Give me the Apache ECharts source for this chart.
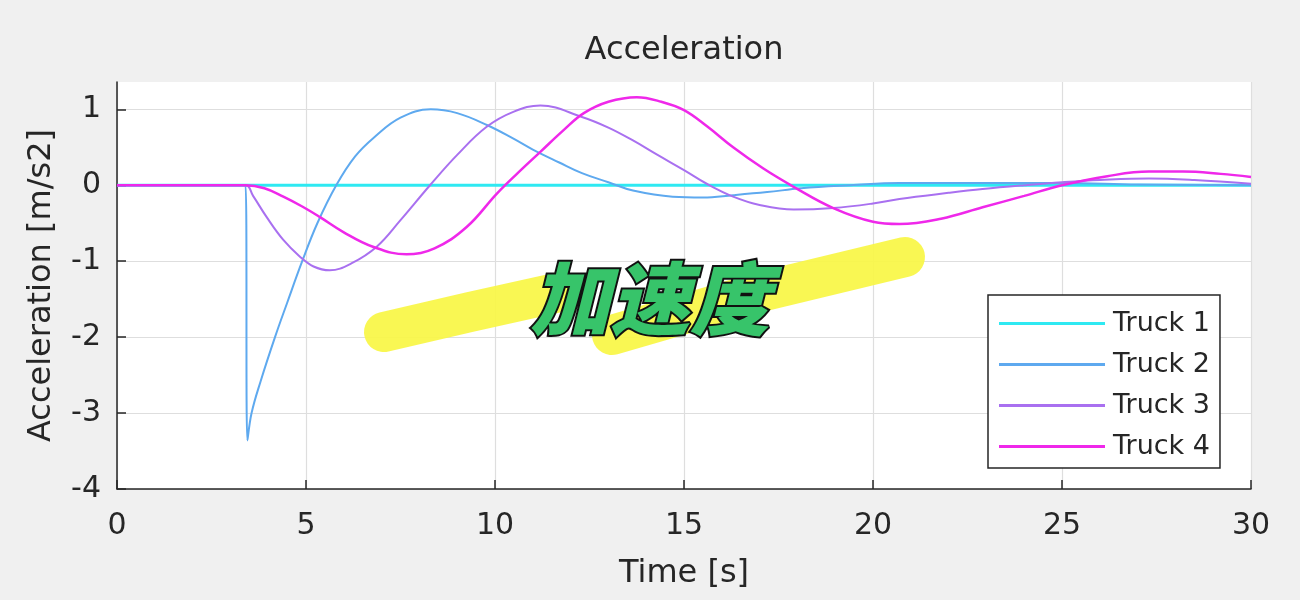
<!DOCTYPE html>
<html>
<head>
<meta charset="utf-8">
<script src="https://cdn.jsdelivr.net/npm/echarts@6/dist/echarts.min.js"></script>
<style>
  html, body { margin: 0; padding: 0; background: #f0f0f0; }
  #main { width: 1300px; height: 600px; }
</style>
</head>
<body>
<div id="main"></div>
<script>
// acceleration of each truck (time in s, accel in m/s2)
var truckNames = ['Truck 1', 'Truck 2', 'Truck 3', 'Truck 4'];
var truckColors = ['#2ee9f2', '#5ea9ef', '#a970f0', '#ef28ea'];
var yTicks = [-4, -3, -2, -1, 0, 1];

var t1 = [0, 30];
var a1 = [0, 0];

var t2 = [0, 3.4, 3.45, 3.56, 3.8, 4.18, 4.5, 4.9, 5.3, 5.8, 6.3, 6.8, 7.5, 8.3, 9.0, 9.8, 10.5, 11.0, 11.7, 12.3, 13.0, 13.65, 14.7, 15.5, 16.3, 17.2, 18.1, 19.4, 20.7, 22, 25, 27, 30];
var a2 = [0, 0, -3.36, -3.0, -2.58, -2.0, -1.55, -1.0, -0.5, 0.0, 0.38, 0.63, 0.89, 1.0, 0.95, 0.79, 0.61, 0.47, 0.3, 0.16, 0.04, -0.07, -0.15, -0.16, -0.13, -0.09, -0.04, 0.0, 0.03, 0.03, 0.03, 0.01, 0.0];

var t3 = [0, 3.4, 3.6, 3.96, 4.4, 4.84, 5.2, 5.63, 6.2, 6.87, 7.5, 8.28, 9.0, 9.78, 10.5, 11.2, 12.3, 13.0, 13.65, 14.3, 15.0, 15.6, 16.3, 17.0, 17.9, 18.95, 20.0, 20.7, 22.0, 22.9, 24, 25, 26, 27.3, 28.5, 30];
var a3 = [0, 0, -0.14, -0.42, -0.72, -0.94, -1.07, -1.12, -1.03, -0.81, -0.46, 0, 0.4, 0.77, 0.97, 1.05, 0.9, 0.76, 0.59, 0.4, 0.2, 0.02, -0.15, -0.26, -0.32, -0.3, -0.24, -0.18, -0.1, -0.05, 0.0, 0.04, 0.07, 0.09, 0.07, 0.02];

var t4 = [0, 3.4, 3.9, 4.4, 4.9, 5.37, 6.0, 6.77, 7.66, 8.4, 9.25, 10.05, 10.6, 11.2, 11.8, 12.35, 13.0, 13.75, 14.4, 15.0, 15.6, 16.3, 17.1, 17.9, 18.95, 20.0, 20.7, 21.8, 22.9, 24, 25, 26.2, 27.3, 28.2, 29.2, 30];
var a4 = [0, 0, -0.04, -0.15, -0.28, -0.42, -0.62, -0.81, -0.91, -0.83, -0.55, -0.11, 0.16, 0.44, 0.72, 0.95, 1.1, 1.16, 1.1, 0.99, 0.78, 0.5, 0.22, -0.02, -0.3, -0.48, -0.51, -0.44, -0.29, -0.14, 0, 0.12, 0.18, 0.18, 0.15, 0.11];

var times = [t1, t2, t3, t4];
var accels = [a1, a2, a3, a4];
var widths = [3, 2, 2, 2.5];

function pairs(t, a) {
    return t.map(function (x, i) { return [x, a[i]]; });
}

var font = '"DejaVu Sans", Verdana, sans-serif';
var ink = '#262626';

var myChart = echarts.init(document.getElementById('main'));

var series = truckNames.map(function (name, i) {
    return {
        name: name,
        type: 'line',
        data: pairs(times[i], accels[i]),
        showSymbol: false,
        smooth: 0.4,
        z: 3 + i,
        lineStyle: { color: truckColors[i], width: widths[i] },
        itemStyle: { color: truckColors[i] }
    };
});

var option = {
    animation: false,
    backgroundColor: '#f0f0f0',
    title: {
        text: 'Acceleration',
        left: 679,
        textAlign: 'center',
        top: 30,
        textStyle: { fontFamily: font, fontSize: 32, fontWeight: 'normal', color: ink }
    },
    grid: {
        left: 117, right: 49, top: 82, bottom: 111,
        show: true, backgroundColor: '#ffffff', borderWidth: 0
    },
    legend: {
        orient: 'vertical',
        left: 988,
        top: 295,
        data: truckNames,
        icon: 'path://M0,0L106,0L106,3L0,3Z',
        itemWidth: 106,
        itemHeight: 3,
        itemGap: 14,
        padding: [15, 10, 8, 11],
        backgroundColor: '#ffffff',
        borderColor: ink,
        borderWidth: 1.5,
        borderRadius: 0,
        textStyle: { fontFamily: font, fontSize: 27, color: ink, padding: [0, 0, 0, 3] }
    },
    xAxis: {
        type: 'value',
        min: 0, max: 30, interval: 5,
        name: 'Time [s]',
        nameLocation: 'middle',
        nameGap: 69,
        nameTextStyle: { fontFamily: font, fontSize: 32, color: ink },
        axisLine: { onZero: false, lineStyle: { color: ink, width: 1.5 } },
        axisTick: { inside: true, length: 9, lineStyle: { color: ink, width: 1.5 } },
        axisLabel: { fontFamily: font, fontSize: 30, color: ink, margin: 22 },
        splitLine: { show: true, lineStyle: { color: '#dedede', width: 1.2 } }
    },
    yAxis: {
        type: 'value',
        min: -4, max: 1.36, interval: 1,
        name: 'Acceleration [m/s2]',
        nameLocation: 'middle',
        nameRotate: 90,
        nameGap: 59,
        nameTextStyle: { fontFamily: font, fontSize: 32, color: ink },
        axisLine: { show: true, onZero: false, lineStyle: { color: ink, width: 1.5 } },
        axisTick: {
            show: true, inside: true, length: 9, customValues: yTicks,
            lineStyle: { color: ink, width: 1.5 }
        },
        axisLabel: {
            fontFamily: font, fontSize: 30, color: ink, margin: 16, customValues: yTicks
        },
        splitLine: { show: true, lineStyle: { color: '#dedede', width: 1.2 } }
    },
    graphic: [
        {
            type: 'polyline', z: 50,
            shape: { points: [[384, 332], [470, 312], [560, 292]] },
            style: { stroke: '#f8f644', lineWidth: 40, lineCap: 'round', lineJoin: 'round', opacity: 0.92 }
        },
        {
            type: 'polyline', z: 50,
            shape: { points: [[612, 335], [760, 292], [905, 257]] },
            style: { stroke: '#f8f644', lineWidth: 40, lineCap: 'round', lineJoin: 'round', opacity: 0.92 }
        },
        {
            type: 'text', z: 60,
            left: 528, top: 257,
            style: {
                text: '加速度',
                font: 'italic 900 80px "Noto Sans CJK SC"',
                fill: '#37c46a',
                stroke: '#111111',
                lineWidth: 4,
                shadowColor: '#111111',
                shadowOffsetX: -3,
                shadowOffsetY: 3,
                shadowBlur: 0
            }
        }
    ],
    series: series
};

myChart.setOption(option);
</script>
</body>
</html>
